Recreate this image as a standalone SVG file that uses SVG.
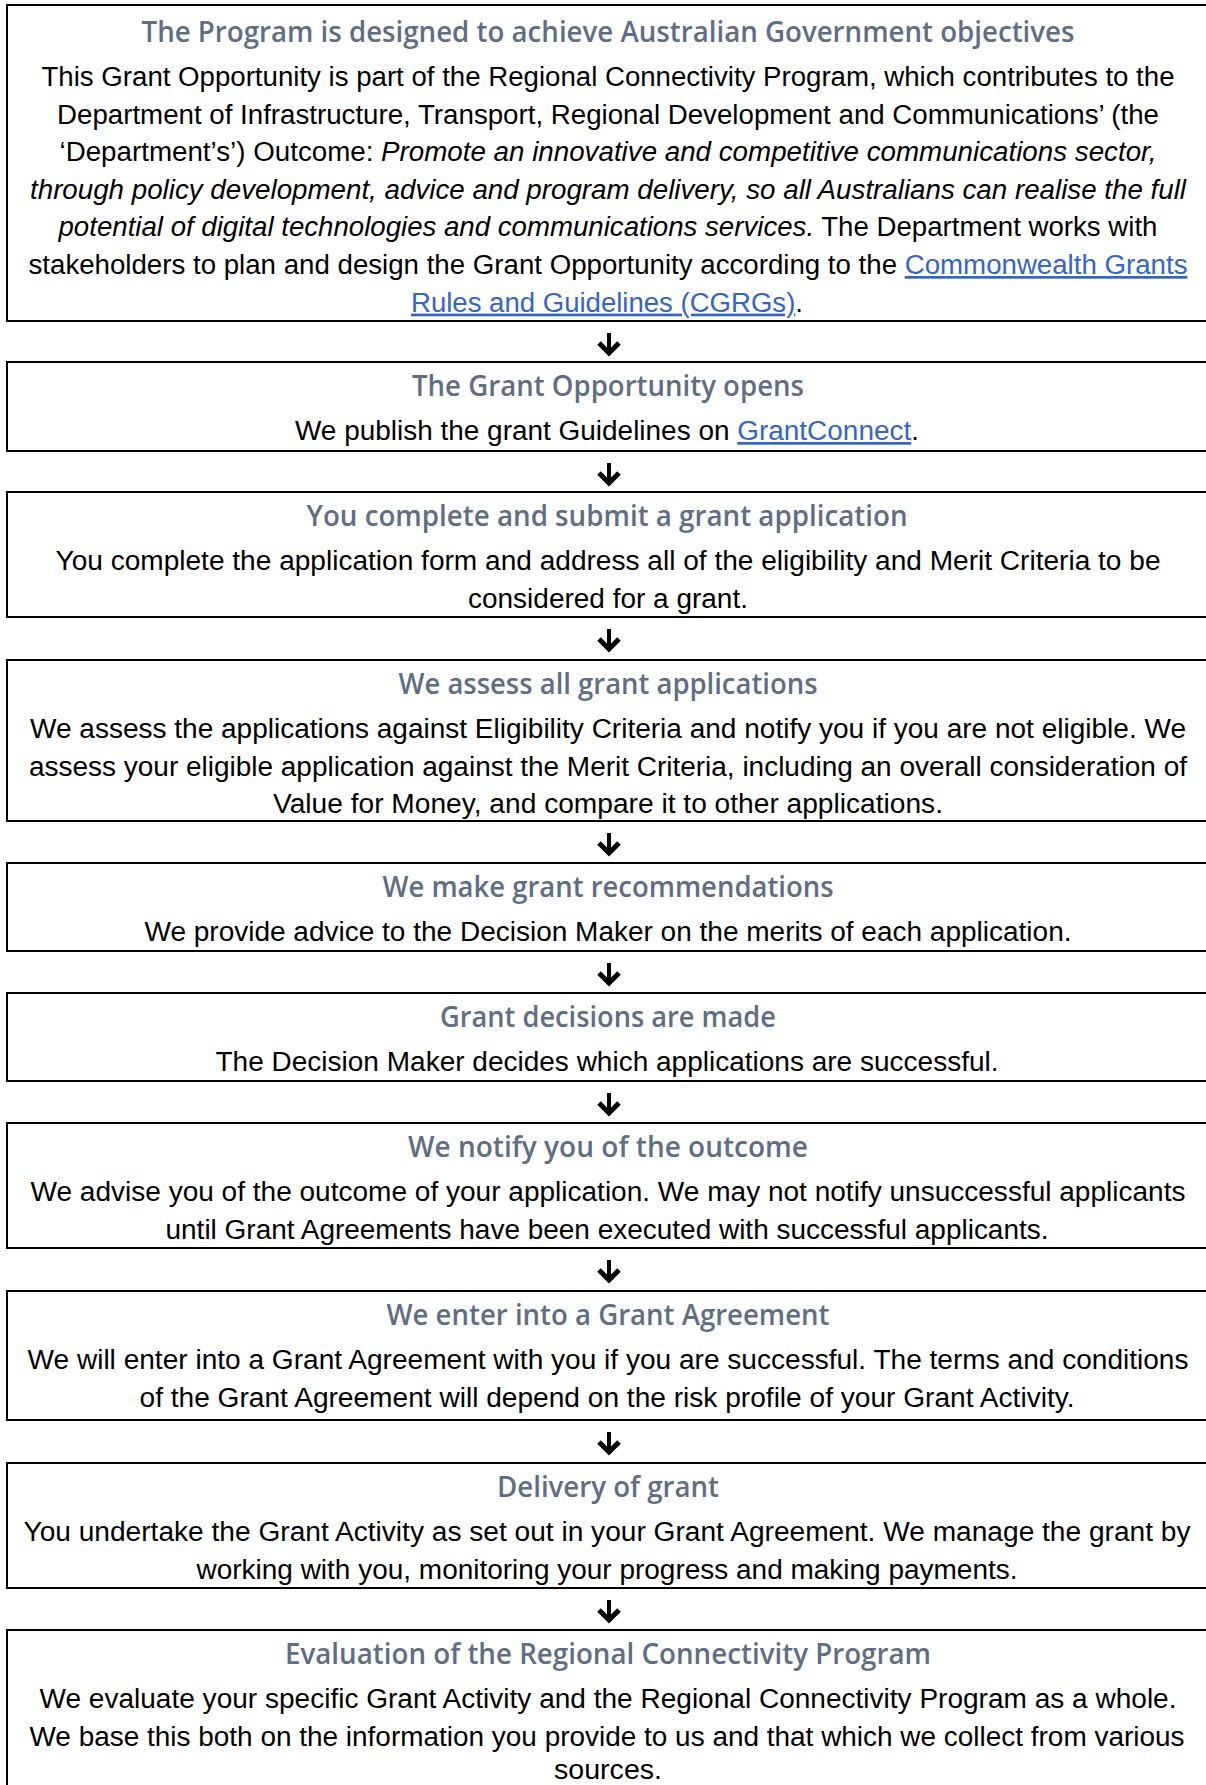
<svg xmlns="http://www.w3.org/2000/svg" width="1206" height="1785" viewBox="0 0 1206 1785">
<defs>
<style>
.box{fill:#fff;stroke:#000;stroke-width:2}
.t{font-family:"Open Sans","Noto Sans",sans-serif;font-weight:600;font-size:29px;fill:#5f6e84;text-anchor:middle}
.b{font-family:"Liberation Sans",Arial,sans-serif;font-size:27px;fill:#000;text-anchor:middle}
.i{font-style:italic}
.l{fill:#3465c8;text-decoration:underline}
.c{stroke:#000;stroke-width:4;fill:none;marker-end:url(#ah)}
</style>
<marker id="ah" markerUnits="userSpaceOnUse" viewBox="-14 -14 28 28" markerWidth="28" markerHeight="28" refX="0" refY="0" orient="auto">
<path d="M-10,-10 L0,0 L-10,10" fill="none" stroke="#000" stroke-width="5" stroke-linejoin="miter"/>
</marker>
</defs>
<rect x="0" y="0" width="1206" height="1785" fill="#fff"/>

<g id="node-1">
<rect class="box" x="7" y="5" width="1210" height="316"/>
<text class="t" x="608" y="42" textLength="933" lengthAdjust="spacingAndGlyphs">The Program is designed to achieve Australian Government objectives</text>
<text class="b" x="608" y="86" textLength="1133" lengthAdjust="spacingAndGlyphs">This Grant Opportunity is part of the Regional Connectivity Program, which contributes to the</text>
<text class="b" x="608" y="123.6" textLength="1102" lengthAdjust="spacingAndGlyphs">Department of Infrastructure, Transport, Regional Development and Communications’ (the</text>
<text class="b" x="608" y="161.2" textLength="1097" lengthAdjust="spacingAndGlyphs">‘Department’s’) Outcome: <tspan class="i">Promote an innovative and competitive communications sector,</tspan></text>
<text class="b i" x="608" y="198.8" textLength="1156" lengthAdjust="spacingAndGlyphs">through policy development, advice and program delivery, so all Australians can realise the full</text>
<text class="b" x="608" y="236.4" textLength="1099" lengthAdjust="spacingAndGlyphs"><tspan class="i">potential of digital technologies and communications services.</tspan> The Department works with</text>
<text class="b" x="608" y="274" textLength="1159" lengthAdjust="spacingAndGlyphs">stakeholders to plan and design the Grant Opportunity according to the <tspan class="l">Commonwealth Grants</tspan></text>
<text class="b" x="607" y="311.6" textLength="392" lengthAdjust="spacingAndGlyphs"><tspan class="l">Rules and Guidelines (CGRGs)</tspan>.</text>
</g>

<g id="node-2">
<rect class="box" x="7" y="362" width="1210" height="89"/>
<text class="t" x="608" y="396" textLength="392" lengthAdjust="spacingAndGlyphs">The Grant Opportunity opens</text>
<text class="b" x="607" y="440" textLength="624" lengthAdjust="spacingAndGlyphs">We publish the grant Guidelines on <tspan class="l">GrantConnect</tspan>.</text>
</g>

<g id="node-3">
<rect class="box" x="7" y="492" width="1210" height="125"/>
<text class="t" x="607" y="526" textLength="601" lengthAdjust="spacingAndGlyphs">You complete and submit a grant application</text>
<text class="b" x="608" y="570" textLength="1105" lengthAdjust="spacingAndGlyphs">You complete the application form and address all of the eligibility and Merit Criteria to be</text>
<text class="b" x="608" y="607.6" textLength="280" lengthAdjust="spacingAndGlyphs">considered for a grant.</text>
</g>

<g id="node-4">
<rect class="box" x="7" y="660" width="1210" height="161"/>
<text class="t" x="608" y="694" textLength="419" lengthAdjust="spacingAndGlyphs">We assess all grant applications</text>
<text class="b" x="608" y="738" textLength="1156" lengthAdjust="spacingAndGlyphs">We assess the applications against Eligibility Criteria and notify you if you are not eligible. We</text>
<text class="b" x="608" y="775.6" textLength="1158" lengthAdjust="spacingAndGlyphs">assess your eligible application against the Merit Criteria, including an overall consideration of</text>
<text class="b" x="608" y="813.2" textLength="670" lengthAdjust="spacingAndGlyphs">Value for Money, and compare it to other applications.</text>
</g>

<g id="node-5">
<rect class="box" x="7" y="863" width="1210" height="88"/>
<text class="t" x="608" y="897" textLength="451" lengthAdjust="spacingAndGlyphs">We make grant recommendations</text>
<text class="b" x="608" y="941" textLength="927" lengthAdjust="spacingAndGlyphs">We provide advice to the Decision Maker on the merits of each application.</text>
</g>

<g id="node-6">
<rect class="box" x="7" y="993" width="1210" height="88"/>
<text class="t" x="608" y="1027" textLength="336" lengthAdjust="spacingAndGlyphs">Grant decisions are made</text>
<text class="b" x="607" y="1071" textLength="783" lengthAdjust="spacingAndGlyphs">The Decision Maker decides which applications are successful.</text>
</g>

<g id="node-7">
<rect class="box" x="7" y="1123" width="1210" height="125"/>
<text class="t" x="608" y="1157" textLength="400" lengthAdjust="spacingAndGlyphs">We notify you of the outcome</text>
<text class="b" x="608" y="1201" textLength="1155" lengthAdjust="spacingAndGlyphs">We advise you of the outcome of your application. We may not notify unsuccessful applicants</text>
<text class="b" x="607" y="1238.6" textLength="883" lengthAdjust="spacingAndGlyphs">until Grant Agreements have been executed with successful applicants.</text>
</g>

<g id="node-8">
<rect class="box" x="7" y="1291" width="1210" height="129"/>
<text class="t" x="608" y="1325" textLength="443" lengthAdjust="spacingAndGlyphs">We enter into a Grant Agreement</text>
<text class="b" x="608" y="1369" textLength="1161" lengthAdjust="spacingAndGlyphs">We will enter into a Grant Agreement with you if you are successful. The terms and conditions</text>
<text class="b" x="607" y="1406.6" textLength="935" lengthAdjust="spacingAndGlyphs">of the Grant Agreement will depend on the risk profile of your Grant Activity.</text>
</g>

<g id="node-9">
<rect class="box" x="7" y="1463" width="1210" height="125"/>
<text class="t" x="608" y="1497" textLength="222" lengthAdjust="spacingAndGlyphs">Delivery of grant</text>
<text class="b" x="607" y="1541" textLength="1167" lengthAdjust="spacingAndGlyphs">You undertake the Grant Activity as set out in your Grant Agreement. We manage the grant by</text>
<text class="b" x="607" y="1578.6" textLength="821" lengthAdjust="spacingAndGlyphs">working with you, monitoring your progress and making payments.</text>
</g>

<g id="node-10">
<rect class="box" x="7" y="1630" width="1210" height="180"/>
<text class="t" x="608" y="1664" textLength="646" lengthAdjust="spacingAndGlyphs">Evaluation of the Regional Connectivity Program</text>
<text class="b" x="608" y="1708" textLength="1137" lengthAdjust="spacingAndGlyphs">We evaluate your specific Grant Activity and the Regional Connectivity Program as a whole.</text>
<text class="b" x="607" y="1745.6" textLength="1155" lengthAdjust="spacingAndGlyphs">We base this both on the information you provide to us and that which we collect from various</text>
<text class="b" x="608" y="1779" textLength="108" lengthAdjust="spacingAndGlyphs">sources.</text>
</g>

<g id="connectors">
<line class="c" x1="609" y1="333" x2="609" y2="353"/>
<line class="c" x1="609" y1="463" x2="609" y2="483"/>
<line class="c" x1="609" y1="629" x2="609" y2="649"/>
<line class="c" x1="609" y1="833" x2="609" y2="853"/>
<line class="c" x1="609" y1="963" x2="609" y2="983"/>
<line class="c" x1="609" y1="1093" x2="609" y2="1113"/>
<line class="c" x1="609" y1="1260" x2="609" y2="1280"/>
<line class="c" x1="609" y1="1432" x2="609" y2="1452"/>
<line class="c" x1="609" y1="1600" x2="609" y2="1620"/>
</g>
</svg>
